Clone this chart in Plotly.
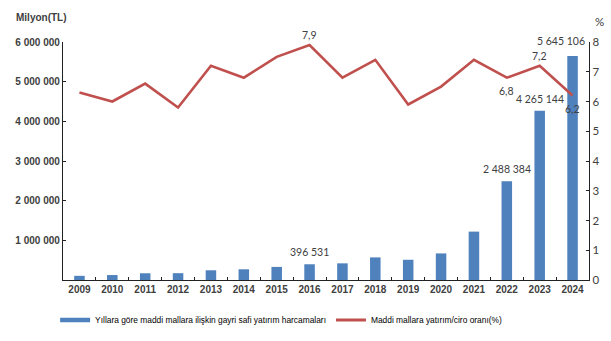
import plotly.graph_objects as go

# Yearly data
years = ["2009", "2010", "2011", "2012", "2013", "2014", "2015", "2016",
         "2017", "2018", "2019", "2020", "2021", "2022", "2023", "2024"]
investment = [105000, 125000, 170000, 172000, 245000, 270000, 330000, 396531,
              420000, 570000, 510000, 670000, 1220000, 2488384, 4265144, 5645106]
ratio = [6.3, 6.0, 6.6, 5.8, 7.2, 6.8, 7.5, 7.9,
         6.8, 7.4, 5.9, 6.5, 7.4, 6.8, 7.2, 6.2]

bar_label_years = ["2016", "2022", "2023", "2024"]
ratio_label_years = {"2016": "above", "2022": "below", "2023": "above", "2024": "below"}

left_ticks = [1000000, 2000000, 3000000, 4000000, 5000000, 6000000]
right_ticks = [0, 1, 2, 3, 4, 5, 6, 7, 8]

bar_name = "Yıllara göre maddi mallara ilişkin gayri safi yatırım harcamaları"
line_name = "Maddi mallara yatırım/ciro oranı(%)"

BLUE = "#4F81BD"
RED = "#C0504D"
TXT = "#404040"


def fmt_int(v):
    return f"{v:,}".replace(",", " ")


def fmt_dec(v):
    return f"{v:.1f}".replace(".", ",")


fig = go.Figure()

fig.add_trace(go.Bar(
    x=years, y=investment, marker=dict(color=BLUE, line=dict(width=0)),
    yaxis="y", showlegend=False, hoverinfo="skip",
))
fig.add_trace(go.Scatter(
    x=years, y=ratio, mode="lines", line=dict(color=RED, width=2.6),
    yaxis="y2", showlegend=False,
))

# Legend entries drawn as thick lines (no visible data)
fig.add_trace(go.Scatter(
    x=[years[0]], y=[None], mode="lines", line=dict(color=BLUE, width=4.5),
    name=bar_name, yaxis="y",
))
fig.add_trace(go.Scatter(
    x=[years[0]], y=[None], mode="lines", line=dict(color=RED, width=3),
    name=line_name, yaxis="y2",
))

annotations = []
label_font = dict(family="Lato, Liberation Sans, sans-serif", size=10.5, color=TXT)
for i, (yr, val) in enumerate(zip(years, investment)):
    if yr in bar_label_years:
        annotations.append(dict(
            x=i, y=val, xref="x", yref="y", text=fmt_int(val),
            showarrow=False, yanchor="bottom", yshift=4 if yr != "2024" else 7,
            xshift=-12 if yr == "2024" else 0, font=label_font,
        ))
for i, (yr, val) in enumerate(zip(years, ratio)):
    if yr in ratio_label_years:
        above = ratio_label_years[yr] == "above"
        annotations.append(dict(
            x=i, y=val, xref="x", yref="y2", text=fmt_dec(val),
            showarrow=False, yanchor="bottom" if above else "top",
            yshift=2 if above else -5, font=label_font,
        ))

axis_font = dict(family="Liberation Sans, Arial, sans-serif", size=10, color=TXT)
annotations.append(dict(
    x=-0.094, y=1.105, xref="x domain", yref="y domain",
    text="<b>Milyon(TL)</b>", showarrow=False,
    xanchor="left", yanchor="middle", font=axis_font,
))
annotations.append(dict(
    x=1.008, y=1.085, xref="x domain", yref="y domain", text="%",
    showarrow=False, xanchor="left", yanchor="middle",
    font=dict(family="Lato, sans-serif", size=11.5, color=TXT),
))

fig.update_layout(
    width=611, height=341,
    margin=dict(l=63, r=22, t=42, b=61, autoexpand=False),
    paper_bgcolor="white", plot_bgcolor="white",
    bargap=0.68,
    xaxis=dict(
        type="category", categoryorder="array", categoryarray=years,
        range=[-0.5, len(years) - 0.5],
        showline=True, linecolor="#222", linewidth=1.3,
        ticks="inside", tickson="boundaries", ticklen=3, tickcolor="#222",
        tickfont=dict(family="Liberation Sans, Arial, sans-serif", size=10,
                      color=TXT, weight="bold"),
        showgrid=False, zeroline=False,
    ),
    yaxis=dict(
        range=[0, 6000000], tickvals=left_ticks,
        ticktext=[fmt_int(v) for v in left_ticks],
        showline=True, linecolor="#222", linewidth=1.3,
        ticks="inside", ticklen=3, tickcolor="#222",
        tickfont=dict(family="Liberation Sans, Arial, sans-serif", size=10,
                      color=TXT, weight="bold"),
        showgrid=False, zeroline=False,
    ),
    yaxis2=dict(
        range=[0, 8], tickvals=right_ticks, overlaying="y", side="right",
        showline=True, linecolor="#222", linewidth=1.3,
        ticks="inside", ticklen=3, tickcolor="#222",
        tickfont=dict(family="Lato, sans-serif", size=11.5, color=TXT),
        showgrid=False, zeroline=False,
    ),
    legend=dict(
        orientation="h", x=-0.015, xanchor="left", y=-0.168, yanchor="middle",
        font=dict(family="Liberation Sans, Arial, sans-serif", size=8.4,
                  color="#000"),
        itemwidth=30, tracegroupgap=0, bgcolor="rgba(0,0,0,0)",
    ),
    annotations=annotations,
)

fig.write_html("out.html")
